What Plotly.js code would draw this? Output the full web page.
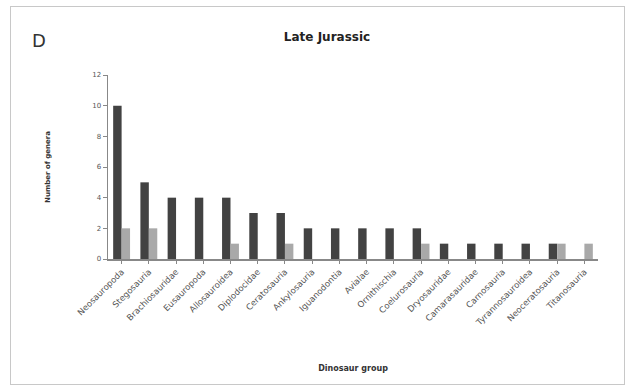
<!DOCTYPE html>
<html><head><meta charset="utf-8">
<script src="https://cdn.plot.ly/plotly-3.0.1.min.js"></script>
<style>body{margin:0;background:#fff}#frame{position:absolute;left:10px;top:6px;width:613px;height:377px;border:1px solid #c8c8c8;pointer-events:none}</style>
</head><body>
<div id="chart" style="width:635px;height:392px"></div>
<div id="frame"></div>
<script>
const groups = ["Neosauropoda","Stegosauria","Brachiosauridae","Eusauropoda","Allosauroidea","Diplodocidae","Ceratosauria","Ankylosauria","Iguanodontia","Avialae","Ornithischia","Coelurosauria","Dryosauridae","Camarasauridae","Carnosauria","Tyrannosauroidea","Neoceratosauria","Titanosauria"];
const seriesA = [10,5,4,4,4,3,3,2,2,2,2,2,1,1,1,1,1,0];
const seriesB = [2,2,0,0,1,0,1,0,0,0,0,1,0,0,0,0,1,1];
const yTicks = [0,2,4,6,8,10,12];

const traces = [
  {type:"bar", x:groups, y:seriesA, marker:{color:"#424242"}, name:"A"},
  {type:"bar", x:groups, y:seriesB, marker:{color:"#a9a9a9"}, name:"B"}
];
const layout = {
  width:635, height:392,
  margin:{l:108, r:37, t:75, b:133},
  paper_bgcolor:"#fff", plot_bgcolor:"#fff",
  showlegend:false,
  barmode:"group", bargap:0.38, bargroupgap:0,
  font:{family:"DejaVu Sans, sans-serif", color:"#333"},
  title:{text:"<b>Late Jurassic</b>", x:0.515, xanchor:"center", y:0.905, yanchor:"middle", font:{size:12, color:"#222"}},
  xaxis:{
    tickangle:-45, tickfont:{size:8.5, color:"#555"},
    showline:true, linecolor:"#888", linewidth:1.5,
    ticks:"outside", ticklen:3, tickcolor:"#888",
    showgrid:false,
    title:{text:"<b>Dinosaur group</b>", font:{size:8, color:"#333"}, standoff:38}
  },
  yaxis:{
    range:[0,12], tickvals:yTicks, tickfont:{size:7, color:"#555"},
    showline:true, linecolor:"#888", linewidth:1.5,
    ticks:"outside", ticklen:4, tickcolor:"#888",
    showgrid:false, zeroline:false,
    title:{text:"<b>Number of genera</b>", font:{size:7, color:"#333"}, standoff:40}
  },
  annotations:[{text:"D", xref:"paper", yref:"paper", x:-0.16, y:1.19, xanchor:"left", yanchor:"middle", showarrow:false, font:{size:18, color:"#333"}}]
};
Plotly.newPlot("chart", traces, layout, {displayModeBar:false, staticPlot:true});
</script>
</body></html>
